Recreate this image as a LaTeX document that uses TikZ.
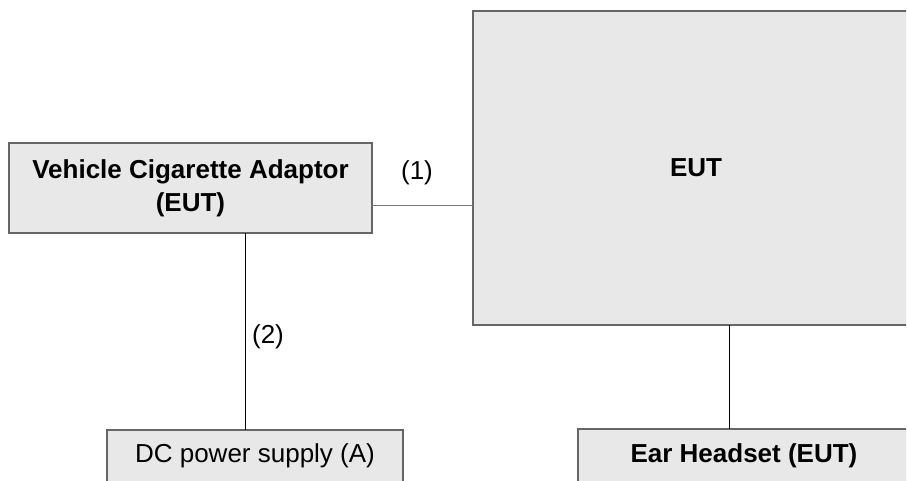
\documentclass[tikz,border=0pt]{standalone}
\usepackage{fontspec}
\setmainfont{Liberation Sans}
\usepackage{tikz}
\usetikzlibrary{calc,positioning,math}
\definecolor{boxfill}{HTML}{E8E8E8}
\definecolor{boxline}{HTML}{666666}
\definecolor{wire}{HTML}{777777}

\begin{document}
\begin{tikzpicture}[x=0.5pt,y=-0.5pt,
	every node/.style={font=\fontsize{13pt}{16.5pt}\selectfont, inner sep=0pt, outer sep=0pt, align=center},
	unit/.style={draw=boxline, line width=0.75pt, fill=boxfill},
	link/.style={draw=black, line width=0.5pt}]
	\tikzmath{
		\pad = 0.5;
	}

	\useasboundingbox (0,0) rectangle (907,481);
	\clip (0,0) rectangle (906,481);

	\node[unit, minimum width=181.5pt, minimum height=45pt] (vca) at (190.5,188) {\textbf{Vehicle Cigarette Adaptor}\\\textbf{(EUT)}};
	\node[unit, minimum width=223pt, minimum height=157pt] (eut) at (696,168) {\textbf{EUT}};
	\node[unit, minimum width=148pt, minimum height=26pt] (dc) at (255,456) {DC power supply (A)};
	\node[unit, minimum width=166pt, minimum height=27pt] (ear) at (744,456) {\textbf{Ear Headset (EUT)}};

	\draw[link, draw=wire] ([yshift=-9pt]vca.east) coordinate (p1) -- (p1 -| eut.west);
	\draw[link] ([xshift=27.25pt]vca.south) coordinate (p2) -- (p2 |- dc.north);
	\draw[link] ([xshift=16.5pt]eut.south) coordinate (p3) -- (p3 |- ear.north);

	\node (lbl1) at (417,173) {(1)};
	\node (lbl2) at (268,337) {(2)};
   % \node[fill=yellow] at (453,240) {};
\end{tikzpicture}
\end{document}
